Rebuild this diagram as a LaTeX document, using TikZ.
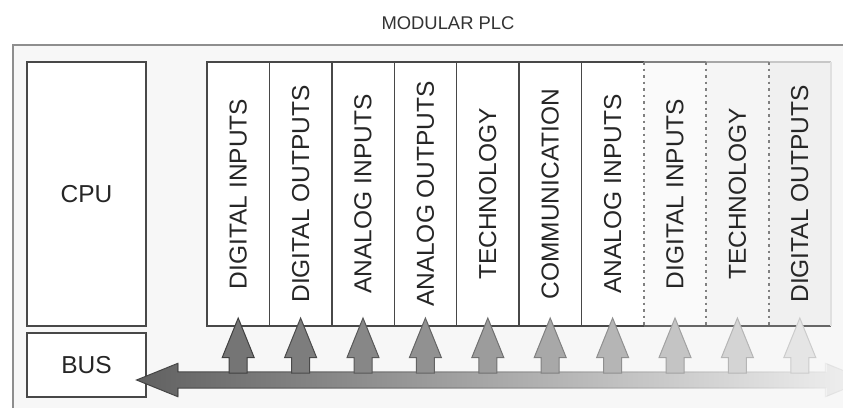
\documentclass[tikz,border=0pt]{standalone}
\usepackage{fontspec}
\setmainfont{Liberation Sans}
\usetikzlibrary{positioning,shapes.arrows,fadings}

\definecolor{framegray}{HTML}{8E8E8E}
\definecolor{panelgray}{HTML}{F7F7F7}
\definecolor{edgegray}{HTML}{484848}

\tikzset{
  unit/.style={draw=edgegray, line width=1.4pt, fill=white, inner sep=0pt,
    outer sep=0pt, text=black!85, font=\fontsize{24.5}{29}\selectfont},
  module/.style={unit, minimum width=62.4pt, minimum height=264pt},
  ghost/.style={module, draw=none},
  dotsep/.style={draw=black!50, line width=2pt, dash pattern=on 2.5pt off 4pt},
  upbus/.style 2 args={single arrow, shape border rotate=90,
    single arrow tip angle=44, single arrow head extend=7pt,
    single arrow head indent=0pt, minimum height=55pt,
    inner sep=8.5pt, outer sep=0pt, anchor=tip, line width=1pt,
    fill=black!#1, draw=black!#2},
  bus/.style={double arrow, double arrow tip angle=44,
    double arrow head extend=8.5pt, double arrow head indent=0pt,
    minimum height=731pt, inner sep=8pt, outer sep=0pt,
    left color=black!62, right color=black!5, draw=none,
    postaction={draw=black!75, line width=1pt, path fading=east}}
}

\begin{document}
\begin{tikzpicture}[x=1pt,y=-1pt]

  \useasboundingbox (0,0) rectangle (843,408);

  % Panel
  \fill[white] (0,0) rectangle (843,408);
  \fill[panelgray] (13,45) rectangle (843,408);
  \draw[framegray, line width=2pt] (13,408) -- (13,45) -- (843,45);

  % Title
  \node[font=\fontsize{18.4}{22}\selectfont, text=black!80] (title) at (448,23) {MODULAR PLC}; %

  % CPU and BUS
  \node[unit, minimum width=119pt, minimum height=264pt] (cpu) at (86.5,194) {CPU}; %
  \node[unit, minimum width=119pt, minimum height=64pt, below=7pt of cpu] (bus) {BUS}; %

  % Modules
  \node[module, right=61pt of cpu] (m1) {\rotatebox{90}{DIGITAL INPUTS}}; %
  \node[module, right=0pt of m1]  (m2) {\rotatebox{90}{DIGITAL OUTPUTS}}; %
  \node[module, right=0pt of m2]  (m3) {\rotatebox{90}{ANALOG INPUTS}}; %
  \node[module, right=0pt of m3]  (m4) {\rotatebox{90}{ANALOG OUTPUTS}}; %
  \node[module, right=0pt of m4]  (m5) {\rotatebox{90}{TECHNOLOGY}}; %
  \node[module, right=0pt of m5]  (m6) {\rotatebox{90}{COMMUNICATION}}; %

  % Optional modules (fading out)
  \node[ghost, right=0pt of m6]  (m7) {\rotatebox{90}{ANALOG INPUTS}}; %
  \node[ghost, fill=black!2, right=0pt of m7] (m8) {\rotatebox{90}{DIGITAL INPUTS}}; %
  \node[ghost, fill=black!4, right=0pt of m8] (m9) {\rotatebox{90}{TECHNOLOGY}}; %
  \node[ghost, fill=black!6, right=0pt of m9] (m10) {\rotatebox{90}{DIGITAL OUTPUTS}}; %

  \draw[edgegray, line width=1.4pt] (m7.north east) -- (m7.north west) -- (m7.south west) -- (m8.south west);
  \draw[black!60, line width=1.4pt] (m8.south west) -- (m10.south east);
  \draw[black!50, line width=1.4pt] (m8.north west) -- (m8.north east);
  \draw[black!35, line width=1.4pt] (m9.north west) -- (m9.north east);
  \draw[black!22, line width=1.4pt] (m10.north west) -- (m10.north east);
  \draw[black!12, line width=1.4pt] (m10.north east) -- (m10.south east);
  \draw[dotsep] (m7.north east) -- (m7.south east);
  \draw[dotsep] (m8.north east) -- (m8.south east);
  \draw[dotsep] (m9.north east) -- (m9.south east);

  % Bus line
  \node[bus, anchor=west] (busline) at ([xshift=-9pt, yshift=-15pt]bus.east) {}; %

  % Module taps
  \node[upbus={54}{75}] (a1)  at ([yshift=8pt]m1.south) {}; %
  \node[upbus={51}{71}] (a2)  at ([yshift=8pt]m2.south) {}; %
  \node[upbus={47}{66}] (a3)  at ([yshift=8pt]m3.south) {}; %
  \node[upbus={43}{61}] (a4)  at ([yshift=8pt]m4.south) {}; %
  \node[upbus={39}{56}] (a5)  at ([yshift=8pt]m5.south) {}; %
  \node[upbus={34}{50}] (a6)  at ([yshift=8pt]m6.south) {}; %
  \node[upbus={29}{44}] (a7)  at ([yshift=8pt]m7.south) {}; %
  \node[upbus={23}{37}] (a8)  at ([yshift=8pt]m8.south) {}; %
  \node[upbus={17}{29}] (a9)  at ([yshift=8pt]m9.south) {}; %
  \node[upbus={10}{20}] (a10) at ([yshift=8pt]m10.south) {}; %

\end{tikzpicture}
\end{document}
